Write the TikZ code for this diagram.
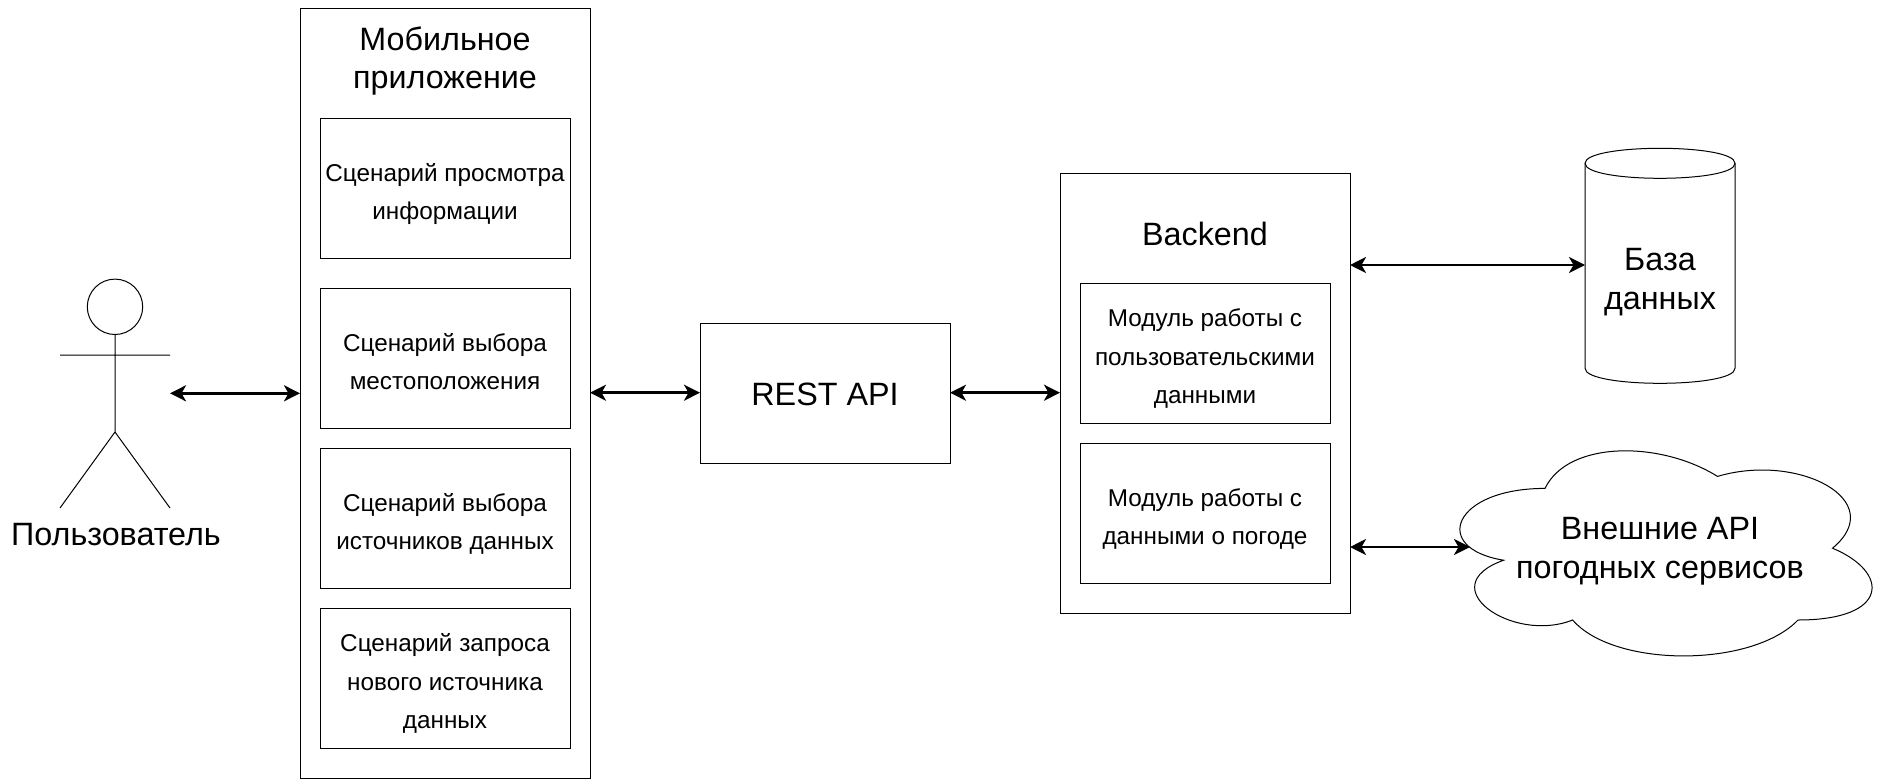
\documentclass[tikz,border=0pt]{standalone}
\usepackage{fontspec}
\setmainfont{Liberation Sans}
\usetikzlibrary{arrows.meta}
\newcommand{\bl}{\rule[-7.2pt]{0pt}{38.4pt}}
\tikzset{
  every picture/.style={x=1pt,y=-1pt},
  line/.style={draw=black,line width=1pt},
  frame/.style={line,rectangle,inner sep=0pt,outer sep=0pt,anchor=north west},
  box/.style={frame,minimum width=250pt,minimum height=140pt,align=center,font=\fontsize{24.3}{38.4}\selectfont},
  big/.style={align=center,inner sep=0pt,outer sep=0pt,font=\fontsize{32.3}{38.4}\selectfont},
  link/.style={line width=2.6pt,black,{Stealth[length=16pt,width=16pt,inset=4.5pt]}-{Stealth[length=16pt,width=16pt,inset=4.5pt]}},
}
\begin{document}
\begin{tikzpicture}
\useasboundingbox (0,0) rectangle (1892,782);
% heights of the connectors
\coordinate (ya) at (0,393.3);
\coordinate (yr) at (0,392.7);
\coordinate (yd) at (0,265);
\coordinate (yc) at (0,547);
% mobile application
\node[frame,minimum width=290pt,minimum height=770pt] (mobile) at (300,8.3) {};
\node[big] (mobiletitle) at (445,57.2) {\bl Мобильное\\приложение\bl};
\node[box] (s1) at (320,118.3) {\bl Сценарий просмотра\\информации\bl};
\node[box] (s2) at (320,288.3) {\bl Сценарий выбора\\местоположения\bl};
\node[box] (s3) at (320,448.3) {\bl Сценарий выбора\\источников данных\bl};
\node[box] (s4) at (320,608.3) {\bl Сценарий запроса\\нового источника\\данных\bl};
% REST
\node[frame,big,anchor=north west,minimum width=250pt,minimum height=140pt] (rest) at (700,323.3) {\bl REST API};
% backend
\node[frame,minimum width=290pt,minimum height=440pt] (backend) at (1060,173.3) {};
\node[big] (backendtitle) at (1205,233) {\bl Backend};
\node[box] (m1) at (1080,283.3) {\bl Модуль работы с\\пользовательскими\\данными\bl};
\node[box] (m2) at (1080,443.3) {\bl Модуль работы с\\данными о погоде\bl};
% database
\draw[line] (1585,163.3) .. controls (1585,143.3) and (1735,143.3) .. (1735,163.3)
  -- (1735,368.3) .. controls (1735,388.3) and (1585,388.3) .. (1585,368.3) -- cycle;
\draw[line] (1585,163.3) .. controls (1585,183.3) and (1735,183.3) .. (1735,163.3);
\node[big,minimum width=150pt,minimum height=235pt] (db) at (1660,278) {\bl База\\данных\bl};
% cloud
\path[line] (1545,488.4)
  .. controls (1453,488.4) and (1430,548.2) .. (1503.6,560.2)
  .. controls (1430,586.5) and (1512.8,644) .. (1572.6,620)
  .. controls (1614,667.9) and (1752,667.9) .. (1798,620)
  .. controls (1890,620) and (1890,572.1) .. (1832.5,548.2)
  .. controls (1890,500.3) and (1798,452.4) .. (1717.5,476.4)
  .. controls (1660,440.5) and (1568,440.5) .. (1545,488.4) -- cycle;
\node[big] (cloud) at (1660,547) {\bl Внешние API\\погодных сервисов\bl};
\coordinate (cloudw) at (1470,547);
% actor
\draw[line] (115,306.8) circle[radius=27.7];
\draw[line] (115,334.5) -- (115,432) (60,355) -- (170,355) (60,508) -- (115,432) -- (170,508);
\node[big] (actor) at (116,533) {\bl Пользователь};
\coordinate (actorr) at (170,393.3);
% connectors
\draw[link] (actorr) -- (mobile.west |- ya);
\draw[link] (mobile.east |- yr) -- (rest.west |- yr);
\draw[link] (rest.east |- yr) -- (backend.west |- yr);
\draw[link] (backend.east |- yd) -- (db.west |- yd);
\draw[link] (backend.east |- yc) -- (cloudw);
\end{tikzpicture}
\end{document}
